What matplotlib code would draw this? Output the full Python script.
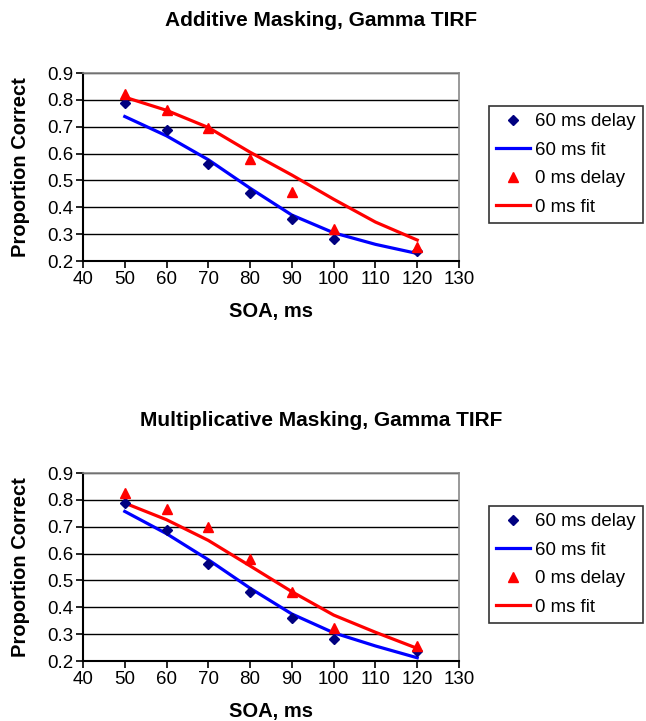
import matplotlib.pyplot as plt

plt.rcParams['font.family'] = ['Liberation Sans', 'DejaVu Sans']

soa = [50, 60, 70, 80, 90, 100, 120]
fit_soa = [50, 60, 70, 80, 90, 100, 110, 120]

# Additive masking
add_60_delay = [0.79, 0.686, 0.56, 0.455, 0.357, 0.281, 0.237]
add_0_delay = [0.823, 0.763, 0.695, 0.579, 0.456, 0.319, 0.252]
add_60_fit = [0.738, 0.666, 0.577, 0.471, 0.371, 0.305, 0.262, 0.228]
add_0_fit = [0.81, 0.761, 0.697, 0.605, 0.52, 0.43, 0.345, 0.278]

# Multiplicative masking
mul_60_delay = [0.788, 0.689, 0.562, 0.456, 0.359, 0.282, 0.238]
mul_0_delay = [0.825, 0.767, 0.698, 0.58, 0.458, 0.322, 0.256]
mul_60_fit = [0.757, 0.674, 0.577, 0.471, 0.375, 0.305, 0.256, 0.212]
mul_0_fit = [0.788, 0.726, 0.649, 0.554, 0.458, 0.371, 0.307, 0.247]

titles = ['Additive Masking, Gamma TIRF', 'Multiplicative Masking, Gamma TIRF']
series = [(add_60_delay, add_60_fit, add_0_delay, add_0_fit),
          (mul_60_delay, mul_60_fit, mul_0_delay, mul_0_fit)]

fig = plt.figure(figsize=(6.46, 7.21), dpi=100)
W, H = 646., 721.
tops = [73, 473]
title_y = [20, 420]
legend_top = [106, 506]

for i in range(2):
    d60, f60, d0, f0 = series[i]
    ax = fig.add_axes([83/W, 1 - (tops[i]+188)/H, 376/W, 188/H])
    ax.plot(soa, d60, 'D', color='#000080', ms=5.5, label='60 ms delay', zorder=4)
    ax.plot(fit_soa, f60, '-', color='#0000ff', lw=2.3, label='60 ms fit', zorder=3)
    ax.plot(soa, d0, '^', color='#ff0000', ms=7, label='0 ms delay', zorder=4)
    ax.plot(fit_soa, f0, '-', color='#ff0000', lw=2.3, label='0 ms fit', zorder=3)
    ax.set_xlim(40, 130)
    ax.set_ylim(0.2, 0.9)
    ax.set_xticks(range(40, 131, 10))
    ax.set_yticks([0.2, 0.3, 0.4, 0.5, 0.6, 0.7, 0.8, 0.9])
    ax.set_yticklabels(['0.2', '0.3', '0.4', '0.5', '0.6', '0.7', '0.8', '0.9'])
    ax.yaxis.grid(True, color='black', lw=1.0)
    ax.set_axisbelow(True)
    for s in ['top', 'right']:
        ax.spines[s].set_color('#888888')
        ax.spines[s].set_linewidth(1.2)
    for s in ['left', 'bottom']:
        ax.spines[s].set_color('black')
        ax.spines[s].set_linewidth(1.5)
    ax.tick_params(direction='out', length=5, width=1.2, labelsize=13.5, pad=2)
    ax.set_xlabel('SOA, ms', fontsize=14.5, fontweight='bold', labelpad=10)
    ax.set_ylabel('Proportion Correct', fontsize=14.5, fontweight='bold', labelpad=12)
    fig.text(321/W, 1 - title_y[i]/H, titles[i], ha='center', va='center',
             fontsize=15, fontweight='bold')
    leg = ax.legend(loc='upper left', bbox_to_anchor=(489/W, 1 - legend_top[i]/H),
                    bbox_transform=fig.transFigure, fontsize=13.4, frameon=True,
                    fancybox=False, handlelength=1.8, borderpad=0.38,
                    labelspacing=0.62, handletextpad=0.3, borderaxespad=0)
    leg.get_frame().set_edgecolor('black')
    leg.get_frame().set_linewidth(1.2)

fig.savefig('out.png', dpi=100)
